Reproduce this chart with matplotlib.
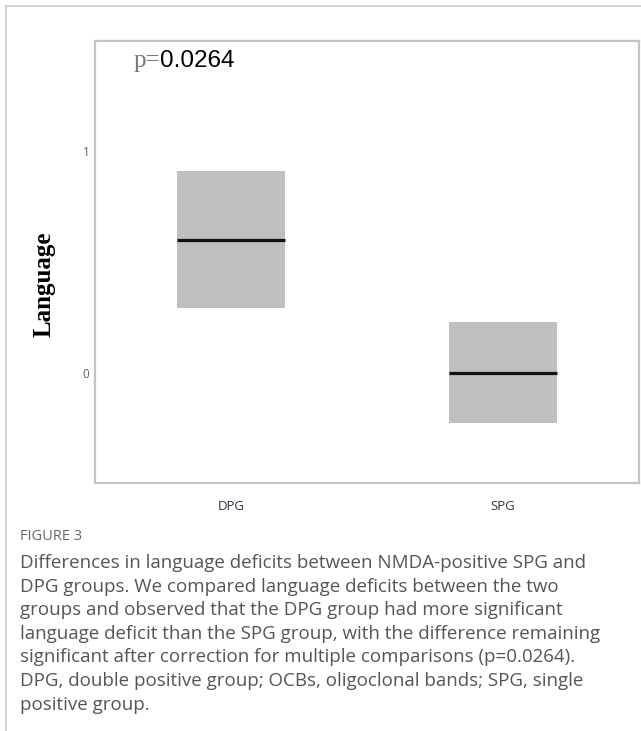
import matplotlib.pyplot as plt
from matplotlib.lines import Line2D

# Box summaries for the language score in each group
groups = ["DPG", "SPG"]
q1 = [0.29, -0.23]
q3 = [0.91, 0.23]
medians = [0.60, 0.0]
p_value = "0.0264"

caption_title = "FIGURE 3"
caption_lines = [
    "Differences in language deficits between NMDA-positive SPG and",
    "DPG groups. We compared language deficits between the two",
    "groups and observed that the DPG group had more significant",
    "language deficit than the SPG group, with the difference remaining",
    "significant after correction for multiple comparisons (p=0.0264).",
    "DPG, double positive group; OCBs, oligoclonal bands; SPG, single",
    "positive group.",
]

W, H = 641, 731
fig = plt.figure(figsize=(W / 100, H / 100), dpi=100)

# thin page frame on the left and top
fig.add_artist(Line2D([6 / W, 6 / W], [0, 1 - 6 / H], color="#cccccc", lw=1.2))
fig.add_artist(Line2D([6 / W, 1], [1 - 6 / H, 1 - 6 / H], color="#cccccc", lw=1.2))

ax = fig.add_axes([95 / W, 1 - 483 / H, 544 / W, 442 / H])

x = list(range(len(groups)))
heights = [b - a for a, b in zip(q1, q3)]
ax.bar(x, heights, bottom=q1, width=0.4, color="#bfbfbf", edgecolor="none")
for xi, m in zip(x, medians):
    ax.hlines(m, xi - 0.2, xi + 0.2, color="#111111", lw=2.3)

ax.set_xlim(-0.5, 1.5)
ax.set_ylim(-0.5, 1.5)
ax.set_xticks(x)
ax.set_xticklabels(groups, fontfamily="Open Sans", fontsize=9.5, color="#333344")
ax.set_yticks([0, 1])
ax.set_yticklabels(["0", "1"], fontfamily="Open Sans", fontsize=8.5, color="#5a6070")
ax.tick_params(axis="x", length=0, pad=12)
ax.tick_params(axis="y", length=0, pad=4)
for s in ax.spines.values():
    s.set_color("#c4c4c4")
    s.set_linewidth(1.6)

ax.set_ylabel("Language", fontfamily="Liberation Serif", fontweight="bold",
              fontsize=18)
ax.yaxis.set_label_coords(-0.072, 0.45)

# p-value note: "p=" in serif grey, number in sans black
t1 = ax.text(0.07, 0.955, "p=", transform=ax.transAxes, fontfamily="Liberation Serif",
             fontsize=18, color="#777777", va="center", ha="left")
ax.annotate(p_value, xy=(1, 0), xycoords=t1, va="bottom", ha="left",
            fontfamily="Liberation Sans", fontsize=17.5, color="black")

# caption
fig.text(20 / W, 1 - 537 / H, caption_title, fontfamily="Open Sans", fontsize=10.5,
         color="#666666", va="center", ha="left")
for i, line in enumerate(caption_lines):
    fig.text(20 / W, 1 - (563 + i * 23.6) / H, line, fontfamily="Open Sans",
             fontsize=13.5, color="#555555", va="center", ha="left")

fig.savefig("out.png", dpi=100)
